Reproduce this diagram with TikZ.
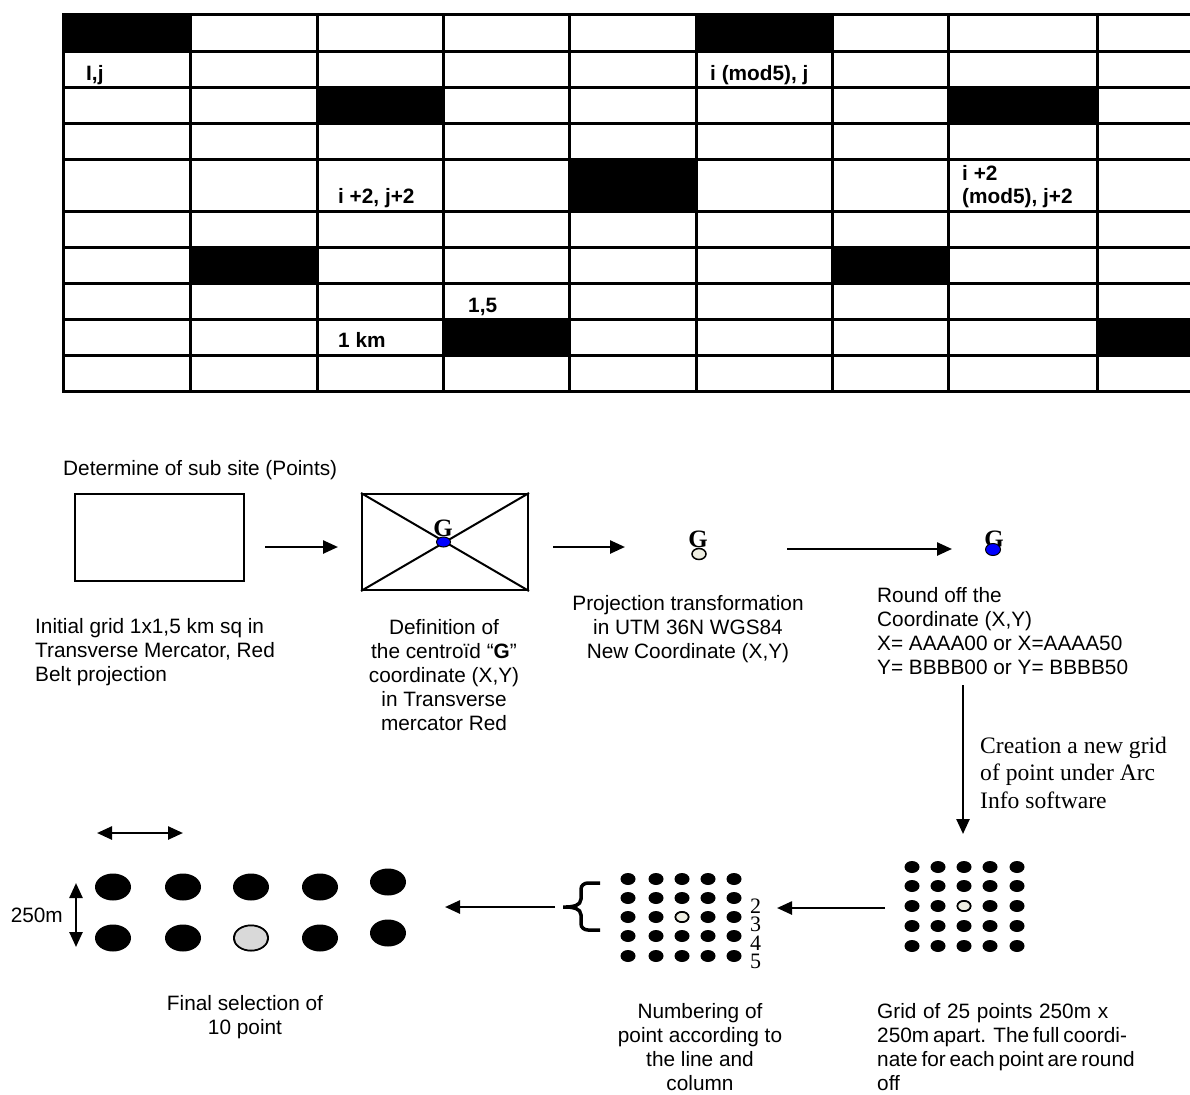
\documentclass[tikz,border=0pt]{standalone}
\usepackage{fontspec}
\setmainfont{Liberation Sans}
\newfontfamily\seriffont{Liberation Serif}
\usetikzlibrary{arrows.meta,shapes.geometric}

\definecolor{pale}{HTML}{EEEEE2}
\definecolor{lightgray}{HTML}{D9D9D9}

\begin{document}
\begin{tikzpicture}[x=1pt,y=-1pt,
  txt/.style={inner sep=0pt, font=\fontsize{20.8}{24}\selectfont},
  tabtxt/.style={inner sep=0pt, anchor=base west, font=\fontsize{20.8}{24}\selectfont\bfseries},
  sertxt/.style={inner sep=0pt, font=\fontsize{23.6}{27.5}\selectfont\seriffont},
  numtxt/.style={inner sep=0pt, anchor=base west, font=\fontsize{22}{22}\selectfont\seriffont},
  gtxt/.style={inner sep=0pt, anchor=base, font=\fontsize{25}{25}\selectfont\seriffont\bfseries},
  tabline/.style={line width=3pt, line cap=rect},
  flow/.style={line width=2.5pt, -{Triangle[length=15pt,width=13pt]}},
  twoway/.style={line width=2.5pt, {Triangle[length=15pt,width=13pt]}-{Triangle[length=15pt,width=13pt]}},
  frame/.style={draw, line width=2pt, inner sep=0pt},
  smalldot/.style={ellipse, fill=black, inner sep=0pt, minimum width=15pt, minimum height=12pt},
  smallmark/.style={ellipse, draw, line width=1.5pt, fill=pale, inner sep=0pt, minimum width=13pt, minimum height=10pt},
  bigdot/.style={ellipse, fill=black, inner sep=0pt, minimum width=36pt, minimum height=27pt},
  bigmark/.style={ellipse, draw, line width=1.5pt, fill=lightgray, inner sep=0pt, minimum width=34pt, minimum height=25pt}
]
\useasboundingbox (0,0) rectangle (1190,1094);

% ---------- sampling grid ----------
\foreach \xa/\ya/\xb/\yb in {63/15/190/52, 696/15/832/52,
    317/88/443/124, 948/88/1097/124,
    569/160/696/211,
    190/247/317/283, 832/247/948/283,
    443/319/569/355, 1097/319/1190/355}
  \fill (\xa,\ya) rectangle (\xb,\yb);
\foreach \y in {15,52,88,124,160,211,247,283,319,355,391}
  \draw[tabline] (63,\y) -- (1190,\y);
\foreach \x in {63,190,317,443,569,696,832,948,1097}
  \draw[tabline] (\x,15) -- (\x,391);

% multi-line nodes are placed by the baseline of their last line
\node[tabtxt] (cij) at (86,81) {I,j};
\node[tabtxt] (cmod) at (710,81) {i (mod5), j};
\node[tabtxt] (cij2) at (338,204) {i +2, j+2};
\node[tabtxt, align=left] (cmod2) at (962,204) {i +2\\(mod5), j+2};
\node[tabtxt] (c15) at (468,312) {1,5};
\node[tabtxt] (ckm) at (338,347) {1 km};

\node[txt, anchor=base west] (title) at (63,475) {Determine of sub site (Points)};

% ---------- processing chain ----------
\node[frame, minimum width=169pt, minimum height=87pt] (grid) at (159.5,537.5) {};
\node[frame, minimum width=166pt, minimum height=96pt] (cent) at (445,542) {};
\draw[line width=2pt] (cent.north west) -- (cent.south east);
\draw[line width=2pt] (cent.south west) -- (cent.north east);
\node[gtxt] (g1) at (443,536) {G};
\node[ellipse, draw, line width=1pt, fill=blue, inner sep=0pt, minimum width=14pt, minimum height=10pt] (g1dot) at (443.5,542) {};

\node[gtxt] (g2) at (698,547) {G};
\node[ellipse, draw, line width=1.5pt, fill=pale, inner sep=0pt, minimum width=14pt, minimum height=11pt] (g2dot) at (699,554) {};

\node[gtxt] (g3) at (994,547) {G};
\node[ellipse, draw, line width=1pt, fill=blue, inner sep=0pt, minimum width=15pt, minimum height=12pt] (g3dot) at (993,549.5) {};

\coordinate (a1s) at (265,547); \coordinate (a1e) at (338,547);
\coordinate (a2s) at (553,547); \coordinate (a2e) at (625,547);
\coordinate (a3s) at (787,549); \coordinate (a3e) at (952,549);
\coordinate (a4s) at (963,685); \coordinate (a4e) at (963,834);
\coordinate (a5s) at (885,908); \coordinate (a5e) at (777,908);
\coordinate (a6s) at (555,907); \coordinate (a6e) at (445,907);
\draw[flow] (a1s) -- (a1e);
\draw[flow] (a2s) -- (a2e);
\draw[flow] (a3s) -- (a3e);
\draw[flow] (a4s) -- (a4e);
\draw[flow] (a5s) -- (a5e);
\draw[flow] (a6s) -- (a6e);

\node[txt, anchor=base west, align=left] (t1) at (35,681)
  {Initial grid 1x1,5 km sq in\\Transverse Mercator, Red\\Belt projection};
\node[txt, anchor=base, align=center] (t2) at (444,730)
  {Definition of\\the centroïd “\textbf{G}”\\coordinate (X,Y)\\in Transverse\\mercator Red};
\node[txt, anchor=base, align=center] (t3) at (688,658)
  {Projection transformation\\in UTM 36N WGS84\\New Coordinate (X,Y)};
\node[txt, anchor=base west, align=left] (t4) at (877,674)
  {Round off the\\Coordinate (X,Y)\\X= AAAA00 or X=AAAA50\\Y= BBBB00 or Y= BBBB50};
\node[sertxt, anchor=base west, align=left] (t5) at (980,808)
  {Creation a new grid\\of point under Arc\\Info software};

% 25-point grid
\foreach \c/\x in {1/912,2/938,3/964,4/990,5/1017}
  \foreach \r/\y in {1/867,2/886,3/906,4/926,5/946}
    \node[smalldot] (p\c\r) at (\x,\y) {};
\node[smallmark] (pc) at (964,906) {};

% numbered grid
\foreach \c/\x in {1/628,2/656,3/682,4/708,5/734}
  \foreach \r/\y in {1/879,2/898,3/917,4/936,5/956}
    \node[smalldot] (n\c\r) at (\x,\y) {};
\node[smallmark] (nc) at (682,917) {};
\node[numtxt] (l2) at (750,913) {2};
\node[numtxt] (l3) at (750,931.5) {3};
\node[numtxt] (l4) at (750,950) {4};
\node[numtxt] (l5) at (750,968.5) {5};
\draw[line width=3.5pt, line cap=butt]
  (600,883) -- (588,883) to[out=180,in=90] (581,889) -- (581,899)
  to[out=-90,in=0] (566,907) -- (563,907)
  (566,907) to[out=0,in=90] (581,915) -- (581,924)
  to[out=-90,in=180] (588,930) -- (600,930);

% final selection
\foreach \c/\x/\dy in {1/113/0,2/183/0,3/251/0,4/320/0,5/388/-5}
  \foreach \r/\y in {1/887,2/938}
    \node[bigdot] (f\c\r) at (\x,\y+\dy) {};
\node[bigmark] (fc) at (251,938) {};
\coordinate (h1) at (97,833); \coordinate (h2) at (183,833);
\coordinate (v1) at (76,883); \coordinate (v2) at (76,947);
\draw[twoway] (h1) -- (h2);
\draw[twoway] (v1) -- (v2);
\node[txt, anchor=base east] (dist) at (63,922) {250m};

\node[txt, anchor=base, align=center] (t6) at (245,1034)
  {Final selection of\\10 point};
\node[txt, anchor=base, align=center] (t7) at (700,1090)
  {Numbering of\\point according to\\the line and\\column};
\node[txt, anchor=base west, align=left] (t8) at (877,1090)
  {\makebox[231pt][s]{Grid of 25 points 250m x}\\
   \makebox[231pt][s]{250m apart. The full coordi-}\\
   \makebox[231pt][s]{nate for each point are round}\\
   off};
\end{tikzpicture}
\end{document}
